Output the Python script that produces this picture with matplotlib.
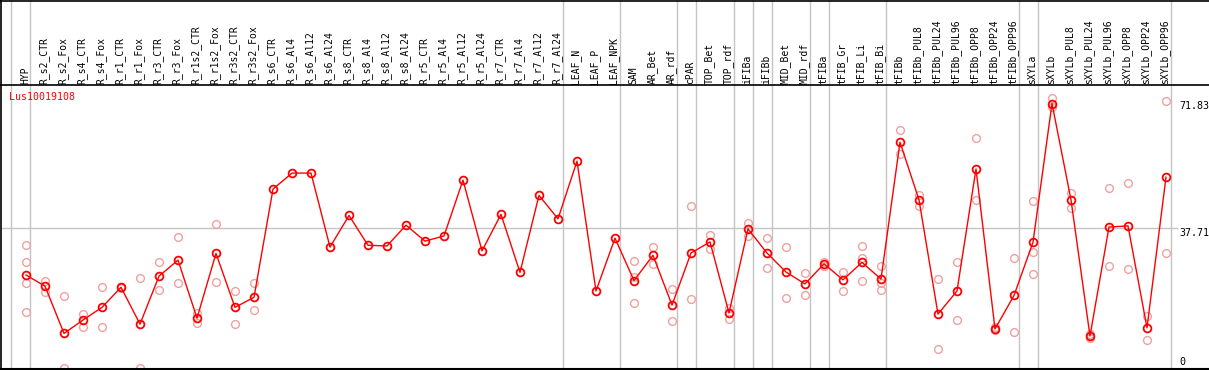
import matplotlib
matplotlib.use("Agg")
import matplotlib.pyplot as plt

gene = "Lus10019108"

categories = ["HYP", "R_s2_CTR", "R_s2_Fox", "R_s4_CTR", "R_s4_Fox", "R_r1_CTR", "R_r1_Fox",
              "R_r3_CTR", "R_r3_Fox", "R_r1s2_CTR", "R_r1s2_Fox", "R_r3s2_CTR", "R_r3s2_Fox",
              "R_s6_CTR", "R_s6_Al4", "R_s6_Al12", "R_s6_Al24", "R_s8_CTR", "R_s8_Al4",
              "R_s8_Al12", "R_s8_Al24", "R_r5_CTR", "R_r5_Al4", "R_r5_Al12", "R_r5_Al24",
              "R_r7_CTR", "R_r7_Al4", "R_r7_Al12", "R_r7_Al24", "LEAF_N", "LEAF_P", "LEAF_NPK",
              "SAM", "AR_Bet", "AR_rdf", "cPAR", "TOP_Bet", "TOP_rdf", "iFIBa", "iFIBb",
              "MID_Bet", "MID_rdf", "tFIBa", "tFIB_Gr", "tFIB_Li", "tFIB_Bi", "tFIBb",
              "tFIBb_PUL8", "tFIBb_PUL24", "tFIBb_PUL96", "tFIBb_OPP8", "tFIBb_OPP24",
              "tFIBb_OPP96", "sXYLa", "sXYLb", "sXYLb_PUL8", "sXYLb_PUL24", "sXYLb_PUL96",
              "sXYLb_OPP8", "sXYLb_OPP24", "sXYLb_OPP96"]

mean_values = [25.0, 22.0, 9.3, 12.9, 16.3, 21.7, 11.8, 24.7, 29.0, 13.4, 30.8, 16.3, 19.0,
               48.1, 52.4, 52.4, 32.5, 41.0, 33.0, 32.8, 38.4, 34.1, 35.5, 50.5, 31.5,
               41.3, 25.7, 46.4, 40.1, 55.6, 20.7, 34.9,
               23.5, 30.3, 16.9, 30.9, 33.9, 14.8, 37.4, 30.9, 25.8, 22.6, 28.0, 23.7,
               28.4, 23.9, 60.7, 45.2, 14.5, 20.7, 53.5, 10.5, 19.5, 33.8, 71.1, 45.2,
               8.6, 37.9, 38.2, 10.8, 51.3]

replicates = [
    [33.1, 28.5, 22.9, 15.1],
    [23.4, 20.4],
    [19.3, 0.0],
    [14.5, 11.1],
    [21.7, 10.9],
    [21.9, 21.5],
    [24.1, 0.0],
    [28.4, 20.9],
    [35.1, 22.8],
    [14.9, 12.0],
    [38.6, 23.0],
    [20.6, 11.8],
    [22.9, 15.5],
    [], [], [], [], [], [], [], [], [], [], [], [], [], [], [], [], [], [], [],
    [28.8, 24.5, 17.5],
    [32.5, 28.0],
    [21.2, 12.6],
    [43.5, 18.5],
    [35.8, 31.9],
    [16.1, 13.1],
    [39.1, 35.6],
    [34.9, 26.8],
    [32.4, 18.7],
    [25.5, 19.5],
    [28.5, 27.5],
    [25.8, 20.6],
    [32.7, 29.5, 23.4],
    [27.4, 22.8, 21.0],
    [63.9, 57.5],
    [46.5, 43.6],
    [23.8, 5.1],
    [28.5, 12.9],
    [61.7, 45.1],
    [10.9, 10.2],
    [29.5, 9.6],
    [44.8, 31.1, 25.3],
    [72.6, 70.1],
    [47.0, 43.0],
    [9.1, 8.0],
    [48.4, 27.3],
    [49.6, 26.6],
    [14.0, 7.5],
    [71.7, 30.9],
]

# group separators: after these column indices
separators = [-1, 0, 28, 31, 34, 35, 37, 38, 39, 41, 42, 45, 52, 53, 60]

y_labels = ["71.83", "37.71", "0"]
y_label_values = [71.83, 37.71, 0.0]
grid_value = 37.71

W, H = 1209, 370
fig = plt.figure(figsize=(W / 100, H / 100), dpi=100)
ax = fig.add_axes([0, 0, 1, 1])

# pixel mapping
x0, dx = 26.0, 19.0
ybase, sy = 368.0, 3.72
def px2x(p):
    return (p - x0) / dx
def py2v(p):
    return (ybase - p) / sy

ax.set_xlim(px2x(0), px2x(W))
ax.set_ylim(py2v(H), py2v(0))
ax.axis("off")

grey = "#c4c4c4"
for s in separators:
    ax.axvline(s + 4.5 / dx, color=grey, lw=1.0, zorder=1)
ax.plot([px2x(2), px2x(1177)], [grid_value, grid_value], color=grey, lw=1.0, zorder=1)

# frame
ax.axhline(py2v(0.5), color="black", lw=1.2, zorder=5)
ax.axhline(py2v(85), color="black", lw=1.2, zorder=5)
ax.axhline(py2v(369), color="black", lw=1.5, zorder=5)
ax.axvline(px2x(1.5), color="black", lw=1.2, zorder=5)

# header labels
mono = "DejaVu Sans Mono"
for i, name in enumerate(categories):
    ax.text(i - 1.0 / dx, py2v(83.5), name, rotation=90, ha="center", va="bottom",
            fontsize=7, family=mono, color="black")

# replicates
pink = "#f0a0a0"
for i, reps in enumerate(replicates):
    if reps:
        ax.plot([i] * len(reps), reps, linestyle="none", marker="o", ms=5.6,
                mfc="none", mec=pink, mew=1.0, zorder=3, clip_on=True)

# mean line
xs = list(range(len(categories)))
ax.plot(xs, mean_values, color="#ff0000", lw=1.0, marker="o", ms=5.6, mfc="none",
        mec="#ff0000", mew=1.3, zorder=4)

ax.text(px2x(9.5), py2v(97), gene, color="#ff0000", fontsize=7.2, family=mono,
        ha="left", va="center")

for lab, val in zip(y_labels, y_label_values):
    yp = ybase - val * sy + 5
    yp = min(yp, 362)
    ax.text(px2x(1179), py2v(yp), lab, fontsize=7.2, family=mono, ha="left",
            va="center", color="black")

fig.savefig("out.png", dpi=100)
